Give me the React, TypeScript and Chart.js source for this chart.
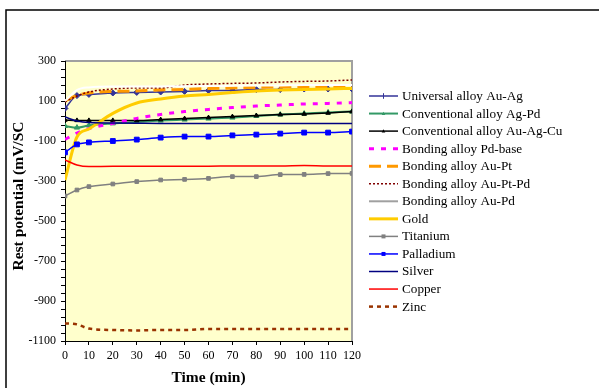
import React, { useEffect, useRef } from 'react';
import { Chart, registerables } from 'chart.js';

Chart.register(...registerables);

const times = [0, 5, 10, 20, 30, 40, 50, 60, 70, 80, 90, 100, 110, 120];

const seriesNames = [
  'Universal alloy Au-Ag',
  'Conventional alloy Ag-Pd',
  'Conventional alloy Au-Ag-Cu',
  'Bonding alloy Pd-base',
  'Bonding alloy Au-Pt',
  'Bonding alloy Au-Pt-Pd',
  'Bonding alloy Au-Pd',
  'Gold',
  'Titanium',
  'Palladium',
  'Silver',
  'Copper',
  'Zinc',
];

const universalAuAg = [63, 127, 133, 140, 143, 145, 148, 152, 153, 157, 157, 160, 160, 160];
const conventionalAgPd = [-25, -33, -22, -12, -5, 2, 7, 12, 17, 25, 32, 37, 43, 47];
const conventionalAuAgCu = [5, 3, 3, 3, 2, 7, 12, 17, 22, 27, 32, 35, 40, 47];
const bondingPdBase = [-92, -60, -38, -12, 13, 33, 47, 58, 67, 75, 80, 85, 88, 92];
const bondingAuPt = [100, 128, 140, 148, 150, 155, 158, 162, 165, 168, 170, 172, 172, 172];
const bondingAuPtPd = [95, 125, 145, 160, 165, 165, 180, 185, 188, 190, 195, 198, 200, 205];
const bondingAuPd = [100, 155, 168, 172, 172, 173, 174, 175, 176, 177, 178, 180, 180, 180];
const gold = [-295, -80, -40, 38, 90, 110, 125, 133, 142, 150, 155, 158, 160, 163];
const titanium = [-375, -345, -328, -315, -303, -295, -292, -287, -278, -278, -268, -267, -263, -262];
const palladium = [-157, -117, -107, -100, -93, -83, -78, -78, -72, -68, -63, -58, -58, -53];
const silver = [20, 0, -8, -10, -11, -12, -12, -12, -12, -12, -12, -12, -12, -12];
const copper = [-195, -220, -228, -226, -226, -226, -226, -226, -225, -225, -225, -223, -225, -225];
const zinc = [-1012, -1017, -1038, -1045, -1047, -1045, -1045, -1040, -1040, -1040, -1040, -1040, -1040, -1040];

const yMajorTicks = [-1100, -900, -700, -500, -300, -100, 100, 300];
const xTicks = [0, 10, 20, 30, 40, 50, 60, 70, 80, 90, 100, 110, 120];

const yTitle = 'Rest potential (mV/SC';
const xTitle = 'Time (min)';

const FONT = "'Liberation Serif', 'Times New Roman', serif";

type Style = {
  color: string;
  legendColor?: string;
  width: number;
  dash: number[];
  point: string | false;
  radius: number;
};

const styles: Style[] = [
  { color: '#333399', width: 1.5, dash: [], point: 'rectRot', radius: 3 },
  { color: '#339966', width: 2, dash: [], point: 'triangle', radius: 3 },
  { color: '#000000', width: 1.5, dash: [], point: 'triangle', radius: 2.5 },
  { color: '#FF00FF', width: 3, dash: [5, 7], point: false, radius: 0 },
  { color: '#FF9900', width: 3, dash: [12, 6], point: false, radius: 0 },
  { color: '#800000', width: 1.5, dash: [2, 2], point: false, radius: 0 },
  { color: '#FFFFFF', legendColor: '#A0A0A0', width: 2, dash: [], point: false, radius: 0 },
  { color: '#FFCC00', width: 3, dash: [], point: false, radius: 0 },
  { color: '#808080', width: 1.5, dash: [], point: 'rect', radius: 2.6 },
  { color: '#0000FF', width: 1.5, dash: [], point: 'rect', radius: 3.4 },
  { color: '#000080', width: 1.5, dash: [], point: false, radius: 0 },
  { color: '#FF0000', width: 1.5, dash: [], point: false, radius: 0 },
  { color: '#993300', width: 2.5, dash: [4, 4], point: false, radius: 0 },
];

const seriesValues = [
  universalAuAg, conventionalAgPd, conventionalAuAgCu, bondingPdBase, bondingAuPt,
  bondingAuPtPd, bondingAuPd, gold, titanium, palladium, silver, copper, zinc,
];

const framePlugin = {
  id: 'frame',
  beforeDraw(chart: any) {
    const { ctx, chartArea } = chart;
    const { left, top, right, bottom } = chartArea;
    ctx.save();
    ctx.fillStyle = '#FFFFCC';
    ctx.fillRect(left, top, right - left, bottom - top);
    ctx.strokeStyle = '#A0A0A0';
    ctx.lineWidth = 2;
    ctx.beginPath();
    ctx.moveTo(left, top);
    ctx.lineTo(right, top);
    ctx.lineTo(right, bottom);
    ctx.stroke();
    ctx.strokeStyle = '#000000';
    ctx.lineWidth = 1.5;
    ctx.beginPath();
    ctx.moveTo(6, chart.height + 5);
    ctx.lineTo(6, 10);
    ctx.lineTo(chart.width + 5, 10);
    ctx.stroke();
    ctx.restore();
  },
};

function drawMarker(ctx: CanvasRenderingContext2D, style: string, x: number, y: number, r: number, color: string) {
  ctx.save();
  ctx.setLineDash([]);
  ctx.fillStyle = color;
  ctx.strokeStyle = color;
  ctx.beginPath();
  if (style === 'rect') {
    ctx.rect(x - r, y - r, 2 * r, 2 * r);
    ctx.fill();
  } else if (style === 'triangle') {
    ctx.moveTo(x, y - r);
    ctx.lineTo(x + r, y + r * 0.8);
    ctx.lineTo(x - r, y + r * 0.8);
    ctx.closePath();
    ctx.fill();
  } else if (style === 'rectRot') {
    ctx.lineWidth = 1;
    ctx.moveTo(x, y - r - 1);
    ctx.lineTo(x, y + r + 1);
    ctx.stroke();
  }
  ctx.restore();
}

const legendPlugin = {
  id: 'customLegend',
  afterDraw(chart: any) {
    const { ctx, chartArea } = chart;
    const x0 = chartArea.right + 17;
    const x1 = x0 + 29;
    ctx.save();
    chart.data.datasets.forEach((ds: any, i: number) => {
      const st: Style = styles[i];
      const y = 96 + i * 17.55;
      ctx.strokeStyle = st.legendColor || st.color;
      ctx.lineWidth = st.width;
      ctx.setLineDash(st.dash);
      ctx.beginPath();
      ctx.moveTo(x0, y);
      ctx.lineTo(x1, y);
      ctx.stroke();
      if (st.point) drawMarker(ctx, st.point as string, (x0 + x1) / 2, y, st.point === 'rect' ? 2 : 1.8, st.color);
      ctx.setLineDash([]);
      ctx.fillStyle = '#000000';
      ctx.font = `13.2px ${FONT}`;
      ctx.textAlign = 'left';
      ctx.textBaseline = 'middle';
      ctx.fillText(ds.label, x1 + 4, y + 0.5);
    });
    // y axis title
    ctx.translate(19, 196);
    ctx.rotate(-Math.PI / 2);
    ctx.font = `bold 15.5px ${FONT}`;
    ctx.textAlign = 'center';
    ctx.textBaseline = 'middle';
    ctx.fillText(yTitle, 0, 0);
    ctx.restore();
  },
};

export default function App() {
  const ref = useRef<HTMLCanvasElement | null>(null);

  useEffect(() => {
    const canvas = ref.current;
    if (!canvas) return;

    const minorTicks: number[] = [];
    for (let v = -1100; v <= 300; v += 40) minorTicks.push(v);

    const datasets = seriesNames.map((name, i) => {
      const st = styles[i];
      return {
        label: name,
        data: times.map((t, j) => ({ x: t, y: seriesValues[i][j] })),
        borderColor: st.color,
        backgroundColor: st.color,
        borderWidth: st.width,
        borderDash: st.dash,
        pointStyle: st.point || 'circle',
        pointRadius: st.point ? st.radius : 0,
        pointBorderWidth: 1,
        pointBackgroundColor: st.color,
        pointBorderColor: st.color,
        cubicInterpolationMode: 'monotone' as const,
        fill: false,
        order: seriesNames.length - i,
      };
    });

    const chart = new Chart(canvas, {
      type: 'line',
      data: { datasets },
      options: {
        animation: false,
        responsive: false,
        devicePixelRatio: 1,
        layout: { padding: { left: 0, top: 61, right: 247, bottom: 0 } },
        plugins: { legend: { display: false }, tooltip: { enabled: false } },
        scales: {
          x: {
            type: 'linear',
            min: 0,
            max: 120,
            afterBuildTicks: (scale: any) => {
              scale.ticks = xTicks.map((v) => ({ value: v }));
            },
            afterFit: (scale: any) => {
              scale.height = 47;
            },
            border: { display: true, color: '#000000', width: 1 },
            grid: { display: true, drawOnChartArea: false, drawTicks: true, tickLength: 4, color: '#000000' },
            ticks: {
              color: '#000000',
              font: { family: FONT, size: 12 },
              padding: 4,
              maxRotation: 0,
              autoSkip: false,
            },
            title: {
              display: true,
              text: xTitle,
              color: '#000000',
              font: { family: FONT, size: 15.5, weight: 'bold' },
              padding: { top: 0, bottom: 1 },
            },
          },
          y: {
            type: 'linear',
            min: -1100,
            max: 300,
            afterBuildTicks: (scale: any) => {
              scale.ticks = minorTicks.map((v) => ({ value: v }));
            },
            afterFit: (scale: any) => {
              scale.width = 65;
            },
            border: { display: true, color: '#000000', width: 1 },
            grid: { display: true, drawOnChartArea: false, drawTicks: true, tickLength: 4, color: '#000000' },
            ticks: {
              color: '#000000',
              font: { family: FONT, size: 12 },
              padding: 5,
              autoSkip: false,
              callback: (v: any) => (yMajorTicks.includes(Number(v)) ? String(v) : ''),
            },
          },
        },
      },
      plugins: [framePlugin, legendPlugin],
    });

    return () => chart.destroy();
  }, []);

  return (
    <div style={{ position: 'fixed', left: 0, top: 0, width: 599, height: 388, background: '#FFFFFF' }}>
      <canvas ref={ref} width={599} height={388} style={{ display: 'block', width: 599, height: 388 }} />
    </div>
  );
}
